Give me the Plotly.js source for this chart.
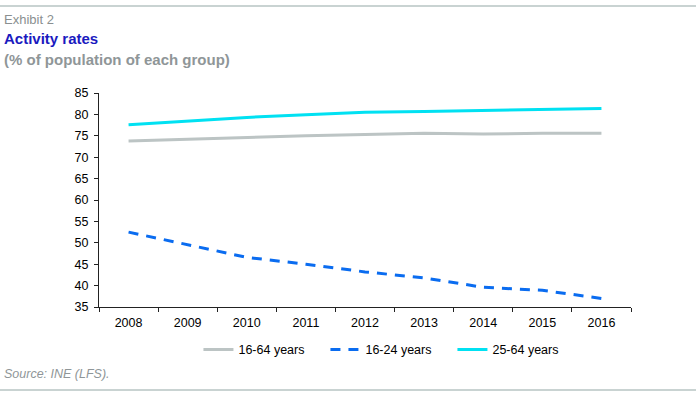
<!DOCTYPE html>
<html><head><meta charset="utf-8">
<script src="https://cdn.plot.ly/plotly-3.0.1.min.js"></script>
<style>html,body{margin:0;padding:0;background:#fff;}#c{width:696px;height:393px;}</style>
</head><body><div id="c"></div>
<script>
const years = ['2008','2009','2010','2011','2012','2013','2014','2015','2016'];
const age16_64 = [73.8, 74.2, 74.7, 75.0, 75.3, 75.6, 75.4, 75.6, 75.6];
const age16_24 = [52.5, 49.6, 46.6, 45.0, 43.2, 41.8, 39.6, 38.9, 37.0];
const age25_64 = [77.6, 78.4, 79.3, 79.9, 80.5, 80.7, 80.9, 81.1, 81.4];
const seriesNames = ['16-64 years', '16-24 years', '25-64 years'];

const traces = [
  {x: years, y: age16_64, name: seriesNames[0], type: 'scatter', mode: 'lines', line: {color: '#bcc4c4', width: 3}},
  {x: years, y: age16_24, name: seriesNames[1], type: 'scatter', mode: 'lines', line: {color: '#0a6cf0', width: 3, dash: '10px,8px'}},
  {x: years, y: age25_64, name: seriesNames[2], type: 'scatter', mode: 'lines', line: {color: '#00e1f2', width: 3}}
];

const layout = {
  width: 696, height: 393,
  margin: {l: 99, r: 65, t: 93, b: 86},
  paper_bgcolor: '#fff', plot_bgcolor: '#fff',
  font: {family: 'Liberation Sans, Arial, sans-serif', size: 12, color: '#000'},
  showlegend: true,
  legend: {orientation: 'h', x: 0.545, xanchor: 'center', y: -0.2, yanchor: 'middle',
           font: {size: 12.5, color: '#000'}, itemwidth: 30, entrywidth: 82, traceorder: 'normal', bgcolor: 'rgba(0,0,0,0)'},
  xaxis: {type: 'category', range: [-0.5, 8.5], showline: true, linecolor: '#222', linewidth: 1,
          ticks: 'outside', tickson: 'boundaries', ticklen: 4, tickcolor: '#222', ticklabelstandoff: 4,
          showgrid: false, zeroline: false, tickfont: {size: 12.5, color: '#000'}},
  yaxis: {range: [35, 85], dtick: 5, showline: true, linecolor: '#222', linewidth: 1,
          ticks: 'outside', ticklen: 4, tickcolor: '#222', showgrid: false, zeroline: false, ticklabelstandoff: 3,
          tickfont: {size: 12.5, color: '#000'}},
  shapes: [
    {type: 'line', xref: 'paper', yref: 'paper', x0: -99/532, x1: (696-99)/532, y0: (393-86-6)/214, y1: (393-86-6)/214,
     line: {color: '#c9d3d2', width: 2}},
    {type: 'line', xref: 'paper', yref: 'paper', x0: -99/532, x1: (696-99)/532, y0: (393-86-390)/214, y1: (393-86-390)/214,
     line: {color: '#c9d3d2', width: 2}}
  ],
  annotations: [
    {text: 'Exhibit 2', xref: 'paper', yref: 'paper', x: -97/532, y: (307-19)/214, xanchor: 'left', yanchor: 'middle',
     showarrow: false, font: {size: 13, color: '#8a8f90'}},
    {text: '<b>Activity rates</b>', xref: 'paper', yref: 'paper', x: -97/532, y: (307-38)/214, xanchor: 'left', yanchor: 'middle',
     showarrow: false, font: {size: 15, color: '#1a1abf'}},
    {text: '<b>(% of population of each group)</b>', xref: 'paper', yref: 'paper', x: -97/532, y: (307-59)/214, xanchor: 'left', yanchor: 'middle',
     showarrow: false, font: {size: 15, color: '#8f9698'}},
    {text: '<i>Source: INE (LFS).</i>', xref: 'paper', yref: 'paper', x: -97/532, y: (307-374)/214, xanchor: 'left', yanchor: 'middle',
     showarrow: false, font: {size: 12.5, color: '#8f9698'}}
  ]
};
Plotly.newPlot('c', traces, layout, {displayModeBar: false, staticPlot: true});
</script></body></html>
